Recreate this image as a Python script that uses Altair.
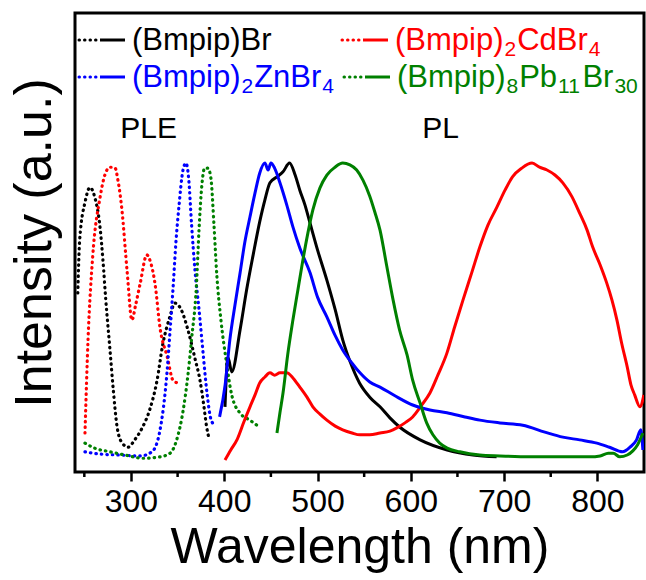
import altair as alt
import pandas as pd

# ---- excitation (PLE, dotted) and emission (PL, solid) spectra, normalised ----
ple_br_wl = [243, 245, 251, 256, 261, 267, 270, 273, 277.5, 281, 285, 290, 297, 304, 312, 320, 328, 334, 342, 347, 354, 361, 369, 374, 378, 381, 384]
ple_br_int = [0.39, 0.505, 0.59, 0.62, 0.60, 0.53, 0.46, 0.375, 0.266, 0.18, 0.10, 0.065, 0.054, 0.07, 0.096, 0.135, 0.20, 0.277, 0.34, 0.368, 0.353, 0.31, 0.244, 0.20, 0.146, 0.10, 0.07]

ple_cd_wl = [250.7, 254, 259, 267, 272, 277.5, 283, 286, 290, 296, 301, 305, 310, 317, 321, 326, 331, 339, 345, 350]
ple_cd_int = [0.085, 0.29, 0.47, 0.60, 0.647, 0.664, 0.662, 0.636, 0.577, 0.434, 0.331, 0.364, 0.412, 0.473, 0.457, 0.407, 0.316, 0.25, 0.20, 0.194]

ple_zn_wl = [250.7, 267, 288, 310, 322.5, 331, 338.6, 342, 345, 348, 351.5, 355.8, 359, 362, 365, 368.6, 373, 377, 381.5, 386, 391]
ple_zn_int = [0.044, 0.039, 0.037, 0.035, 0.044, 0.09, 0.216, 0.31, 0.397, 0.495, 0.58, 0.658, 0.673, 0.636, 0.538, 0.44, 0.353, 0.266, 0.172, 0.113, 0.10]

ple_pb_wl = [250.7, 261, 277.5, 293.6, 313, 331, 342, 349, 356, 361, 365, 370, 373, 376, 379, 382.5, 385.7, 389, 392, 396.5, 402, 408, 417, 427.5, 435]
ple_pb_int = [0.063, 0.052, 0.044, 0.037, 0.03, 0.033, 0.041, 0.07, 0.135, 0.21, 0.29, 0.40, 0.53, 0.625, 0.662, 0.662, 0.64, 0.538, 0.43, 0.33, 0.244, 0.168, 0.128, 0.113, 0.102]

pl_br_wl = [400.8, 404, 408, 417, 424, 431, 438, 443.6, 449, 456.5, 463, 470, 476, 481, 486.5, 492, 500, 510, 519, 527, 535, 545, 556, 567, 577.6, 588, 610, 639, 666.6, 692]
pl_br_int = [0.142, 0.25, 0.218, 0.31, 0.397, 0.473, 0.545, 0.593, 0.63, 0.643, 0.654, 0.673, 0.647, 0.614, 0.582, 0.542, 0.484, 0.418, 0.353, 0.288, 0.24, 0.194, 0.163, 0.142, 0.118, 0.098, 0.07, 0.048, 0.037, 0.033]

pl_cd_wl = [400.8, 407, 413.6, 421, 427.6, 433, 438, 443.6, 449, 454, 459.7, 467, 473.6, 481, 488.7, 495, 502.6, 510, 519, 527, 537, 545.5, 556, 567, 577.6, 585, 593.7, 602, 611, 620.5, 629, 638.7, 647, 656, 665.6, 674, 682.7, 692.3, 701, 709, 719, 730, 738, 746, 754.5, 763, 772.7, 781, 789, 795, 803, 810, 815.6, 821, 826, 832, 836, 840, 845.6, 849.9]
pl_cd_int = [0.026, 0.048, 0.07, 0.109, 0.142, 0.168, 0.194, 0.207, 0.216, 0.211, 0.216, 0.216, 0.205, 0.185, 0.163, 0.142, 0.126, 0.113, 0.10, 0.092, 0.085, 0.081, 0.081, 0.085, 0.089, 0.096, 0.107, 0.12, 0.144, 0.172, 0.211, 0.259, 0.316, 0.375, 0.436, 0.49, 0.538, 0.577, 0.614, 0.643, 0.662, 0.673, 0.664, 0.658, 0.647, 0.63, 0.60, 0.564, 0.527, 0.49, 0.451, 0.412, 0.375, 0.331, 0.281, 0.229, 0.19, 0.168, 0.142, 0.168]

pl_zn_wl = [395, 401, 406, 411.5, 417, 422, 427.6, 433, 438, 443.6, 447, 450, 454, 459.7, 467, 473.6, 481, 492, 500, 510, 518.7, 527, 537, 545.5, 556, 567, 583, 602, 620.5, 638.7, 658, 674, 695.5, 720, 743.7, 763, 781, 799.5, 813, 827, 835, 842, 846.6, 848.8]
pl_zn_int = [0.12, 0.19, 0.288, 0.364, 0.434, 0.50, 0.556, 0.608, 0.651, 0.673, 0.658, 0.673, 0.662, 0.63, 0.582, 0.534, 0.488, 0.434, 0.381, 0.338, 0.298, 0.266, 0.237, 0.216, 0.196, 0.185, 0.166, 0.146, 0.135, 0.129, 0.12, 0.113, 0.107, 0.102, 0.087, 0.076, 0.07, 0.063, 0.054, 0.044, 0.054, 0.07, 0.092, 0.048]

pl_pb_wl = [456.5, 459.7, 463, 468, 473.6, 479, 484, 489.7, 495, 502.6, 510, 518.7, 527, 534.7, 542, 548.7, 556, 561.5, 567, 574, 581, 588, 596, 602, 610, 617, 623.7, 631, 639, 652.6, 674, 695.5, 727.7, 760, 792, 803, 811.7, 817, 824, 832, 838, 843, 848.8]
pl_pb_int = [0.085, 0.129, 0.172, 0.255, 0.331, 0.397, 0.458, 0.521, 0.571, 0.619, 0.647, 0.664, 0.673, 0.669, 0.658, 0.636, 0.601, 0.566, 0.527, 0.451, 0.375, 0.309, 0.255, 0.20, 0.15, 0.107, 0.081, 0.063, 0.052, 0.044, 0.037, 0.035, 0.033, 0.033, 0.033, 0.035, 0.041, 0.041, 0.033, 0.037, 0.046, 0.059, 0.085]

compounds = ["(Bmpip)Br", "(Bmpip)2CdBr4", "(Bmpip)2ZnBr4", "(Bmpip)8Pb11Br30"]
# the same names split into (text, is_subscript) pieces for the key
compound_parts = [
    [("(Bmpip)Br", False)],
    [("(Bmpip)", False), ("2", True), ("CdBr", False), ("4", True)],
    [("(Bmpip)", False), ("2", True), ("ZnBr", False), ("4", True)],
    [("(Bmpip)", False), ("8", True), ("Pb", False), ("11", True), ("Br", False), ("30", True)],
]
colors = ["#000000", "#ff0000", "#0000ff", "#008000"]

x_ticks = [300, 400, 500, 600, 700, 800]
x_minor = [250, 350, 450, 550, 650, 750]

annotations = ["PLE", "PL"]
annotation_wl = [319, 632]
annotation_int = [0.747, 0.747]

FONT = "Liberation Sans"

spectra = [
    (compounds[0], "PLE", ple_br_wl, ple_br_int),
    (compounds[1], "PLE", ple_cd_wl, ple_cd_int),
    (compounds[2], "PLE", ple_zn_wl, ple_zn_int),
    (compounds[3], "PLE", ple_pb_wl, ple_pb_int),
    (compounds[0], "PL", pl_br_wl, pl_br_int),
    (compounds[1], "PL", pl_cd_wl, pl_cd_int),
    (compounds[2], "PL", pl_zn_wl, pl_zn_int),
    (compounds[3], "PL", pl_pb_wl, pl_pb_int),
]
rows = []
for name, kind, wl, inten in spectra:
    for i, (w, v) in enumerate(zip(wl, inten)):
        rows.append({"compound": name, "kind": kind, "curve": f"{name} {kind}",
                     "order": i, "wl": w, "intensity": v})
df = pd.DataFrame(rows)

W, H = 569, 459

x_scale = alt.Scale(domain=[240, 850], nice=False, zero=False)
y_scale = alt.Scale(domain=[0, 1], nice=False, zero=False)
color_scale = alt.Scale(domain=compounds, range=colors)

x_axis = alt.Axis(values=x_ticks, grid=False, domain=False, tickSize=9, tickWidth=2.5,
                  tickColor="black", labelFontSize=32, labelFont=FONT, labelColor="black",
                  labelPadding=5, title="Wavelength (nm)", titleFont=FONT,
                  titleFontSize=50, titleFontWeight="normal", titleColor="black",
                  titlePadding=5)
y_axis = alt.Axis(labels=False, ticks=False, grid=False, domain=False,
                  title="Intensity (a.u.)", titleFont=FONT, titleFontSize=52,
                  titleFontWeight="normal", titleColor="black", titlePadding=14)

ple = alt.Chart(df).transform_filter(alt.datum.kind == "PLE").mark_line(
    strokeWidth=3.2, strokeDash=[0.5, 5], strokeCap="round", clip=True,
    interpolate="monotone"
).encode(
    x=alt.X("wl:Q", scale=x_scale, axis=x_axis),
    y=alt.Y("intensity:Q", scale=y_scale, axis=y_axis),
    color=alt.Color("compound:N", scale=color_scale, legend=None),
    detail="curve:N",
    order="order:Q",
)

pl = alt.Chart(df).transform_filter(alt.datum.kind == "PL").mark_line(
    strokeWidth=3, clip=True, interpolate="monotone"
).encode(
    x=alt.X("wl:Q", scale=x_scale),
    y=alt.Y("intensity:Q", scale=y_scale),
    color=alt.Color("compound:N", scale=color_scale, legend=None),
    detail="curve:N",
    order="order:Q",
)

# minor ticks below the frame
minor = alt.Chart(pd.DataFrame({"wl": x_minor})).mark_rule(
    color="black", strokeWidth=2.5
).encode(
    x=alt.X("wl:Q", scale=x_scale),
    y=alt.value(H),
    y2=alt.value(H + 5),
)

notes = alt.Chart(pd.DataFrame({"label": annotations, "wl": annotation_wl,
                                "intensity": annotation_int})).mark_text(
    font=FONT, fontSize=30, color="black", baseline="middle", align="center"
).encode(
    x=alt.X("wl:Q", scale=x_scale),
    y=alt.Y("intensity:Q", scale=y_scale),
    text="label:N",
)

# Arial-metric advance widths (per 1000 em) for the glyphs used in the key
ADV = {"(": 333, ")": 333, "B": 667, "m": 833, "p": 556, "i": 222, "r": 333,
       "C": 722, "d": 556, "Z": 611, "n": 556, "P": 667, "b": 556}
for dgt in "0123456789":
    ADV[dgt] = 556

KEY_SIZE, SUB_SIZE, SUB_DROP, SUB_GAP = 31, 21, 9, 1


def text_width(s, size):
    return sum(ADV.get(ch, 556) for ch in s) * size / 1000.0


# in-plot key: dotted + solid sample followed by coloured name
key_slots = [(2, 27), (265, 27), (2, 64), (267, 64)]
key_layers = []
for parts, col, (kx, ky) in zip(compound_parts, colors, key_slots):
    one = pd.DataFrame({"k": [0]})
    key_layers.append(alt.Chart(one).mark_rule(
        color=col, strokeWidth=3, strokeDash=[0.5, 5], strokeCap="round"
    ).encode(x=alt.value(kx + 2), x2=alt.value(kx + 20), y=alt.value(ky)))
    key_layers.append(alt.Chart(one).mark_rule(
        color=col, strokeWidth=3
    ).encode(x=alt.value(kx + 23), x2=alt.value(kx + 48), y=alt.value(ky)))
    cursor = kx + 55
    for seg, is_sub in parts:
        size = SUB_SIZE if is_sub else KEY_SIZE
        if is_sub:
            cursor += SUB_GAP
        key_layers.append(alt.Chart(pd.DataFrame({"t": [seg]})).mark_text(
            font=FONT, fontSize=size, color=col, align="left", baseline="middle",
            dy=SUB_DROP if is_sub else 0
        ).encode(x=alt.value(cursor), y=alt.value(ky + 1), text="t:N"))
        cursor += text_width(seg, size) + (SUB_GAP if is_sub else 0)

chart = alt.layer(ple, pl, minor, notes, *key_layers).properties(
    width=W, height=H,
    autosize=alt.AutoSizeParams(type="none"),
    padding={"left": 75, "top": 13, "right": 2, "bottom": 108},
    background="white",
).configure_view(stroke="black", strokeWidth=3)

chart.save("out.html", embed_options={"renderer": "svg", "actions": False})
